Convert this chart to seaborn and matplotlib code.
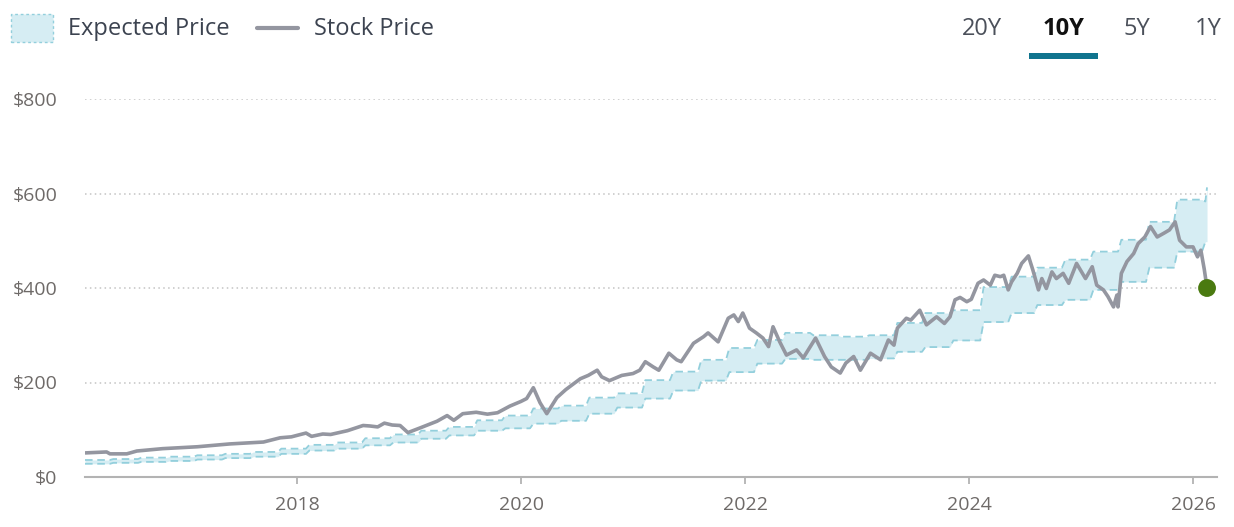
import matplotlib
matplotlib.use("Agg")
import matplotlib.pyplot as plt
import seaborn as sns
from matplotlib.patches import Rectangle
from matplotlib.lines import Line2D

# ---------------- data ----------------
stock_dates = [2016.11, 2016.20, 2016.30, 2016.33, 2016.48, 2016.57, 2016.80, 2017.11,
               2017.40, 2017.70, 2017.85, 2017.95, 2018.08, 2018.13, 2018.23, 2018.30,
               2018.45, 2018.59, 2018.65, 2018.72, 2018.78, 2018.85, 2018.92, 2018.99,
               2019.10, 2019.25, 2019.34, 2019.40, 2019.48, 2019.60, 2019.70, 2019.79,
               2019.90, 2020.00, 2020.05, 2020.11, 2020.17, 2020.23, 2020.32, 2020.40,
               2020.53, 2020.60, 2020.68, 2020.72, 2020.79, 2020.90, 2021.00,
               2021.06, 2021.11, 2021.18, 2021.23, 2021.32, 2021.39, 2021.43, 2021.54,
               2021.63, 2021.67, 2021.76, 2021.85, 2021.90, 2021.94, 2021.98, 2022.04,
               2022.10, 2022.16, 2022.21, 2022.25, 2022.31, 2022.37, 2022.46, 2022.52,
               2022.63, 2022.71, 2022.77, 2022.85, 2022.90, 2022.97, 2023.03, 2023.12,
               2023.21, 2023.28, 2023.33, 2023.36, 2023.44, 2023.48, 2023.56, 2023.62,
               2023.71, 2023.78, 2023.83, 2023.875, 2023.92, 2023.98, 2024.02, 2024.08,
               2024.13, 2024.19, 2024.23, 2024.28, 2024.31, 2024.35, 2024.38, 2024.43,
               2024.47, 2024.53, 2024.57, 2024.62, 2024.65, 2024.69, 2024.74, 2024.78,
               2024.84, 2024.89, 2024.96, 2025.04, 2025.10, 2025.14, 2025.20, 2025.24,
               2025.29, 2025.32, 2025.33, 2025.36, 2025.41, 2025.47, 2025.51, 2025.57,
               2025.62, 2025.68, 2025.74, 2025.79, 2025.84, 2025.88, 2025.94, 2026.00,
               2026.04, 2026.07, 2026.10, 2026.125]
stock_prices = [51, 52, 53, 49, 49, 55, 60, 64,
                70, 74, 83, 85, 93, 86, 91, 90,
                98, 109, 108, 106, 114, 110, 109, 94,
                104, 118, 130, 120, 134, 137, 133, 136,
                150, 160, 166, 189, 157, 134, 168, 185,
                208, 215, 226, 212, 204, 215, 219,
                226, 244, 233, 226, 262, 248, 244, 283,
                297, 305, 286, 336, 343, 329, 347, 315,
                305, 294, 276, 318, 286, 258, 269, 252,
                294, 255, 233, 220, 241, 255, 226, 262,
                248, 290, 279, 315, 336, 332, 353, 322,
                339, 325, 339, 375, 380, 371, 376, 410,
                417, 406, 427, 424, 427, 396, 413, 431,
                452, 468, 438, 396, 420, 399, 434, 420,
                431, 410, 452, 420, 445, 406, 396, 382,
                360, 385, 360, 431, 456, 473, 494, 508,
                530, 508, 516, 523, 540, 501, 487, 487,
                466, 480, 440, 400]

band_dates = [2016.107, 2016.33, 2016.58, 2016.83, 2017.08, 2017.33, 2017.58, 2017.83,
              2018.08, 2018.33, 2018.58, 2018.83, 2019.08, 2019.33, 2019.58, 2019.83,
              2020.08, 2020.33, 2020.58, 2020.83, 2021.08, 2021.33, 2021.58, 2021.83,
              2022.08, 2022.33, 2022.58, 2022.83, 2023.08, 2023.33, 2023.58, 2023.83,
              2024.10, 2024.35, 2024.58, 2024.83, 2025.08, 2025.33, 2025.58, 2025.83,
              2026.08, 2026.125]
band_high = [36, 38, 41, 43, 46, 49, 53, 60,
             68, 73, 82, 90, 98, 106, 120, 130,
             145, 151, 168, 177, 205, 223, 248, 273,
             290, 305, 300, 297, 300, 326, 347, 353,
             402, 424, 443, 460, 477, 502, 540, 587,
             583, 613]
band_low = [28, 30, 32, 34, 37, 40, 43, 49,
            56, 60, 67, 73, 81, 88, 98, 103,
            113, 119, 134, 147, 166, 183, 204, 222,
            240, 250, 248, 248, 251, 265, 275, 289,
            328, 347, 364, 375, 396, 413, 443, 477,
            498, 498]

y_ticks = [0, 200, 400, 600, 800]
y_labels = ["$0", "$200", "$400", "$600", "$800"]
x_ticks = [2018, 2020, 2022, 2024, 2026]
x_labels = ["2018", "2020", "2022", "2024", "2026"]
tabs = ["20Y", "10Y", "5Y", "1Y"]


def slanted(dates, vals, off=0.03):
    """Quarterly step outline with short sloped transitions between steps."""
    xs, ys = [], []
    n = len(dates)
    for i in range(n - 1):
        xs.append(dates[i] + (off if i > 0 else 0.0))
        ys.append(vals[i])
        if i < n - 2:
            xs.append(dates[i + 1])
            ys.append(vals[i])
    xs.append(dates[-1])
    ys.append(vals[-1])
    return xs, ys


bx, bh = slanted(band_dates, band_high)
_, bl = slanted(band_dates, band_low)

# ---------------- style ----------------
sns.set_theme(style="white")
plt.rcParams["font.family"] = ["Open Sans", "DejaVu Sans"]

W, H = 1234, 527
fig = plt.figure(figsize=(W / 100, H / 100), dpi=100)
ax = fig.add_axes([85 / W, 1 - 477 / H, (1217 - 85) / W, (477 - 99) / H])
ax.set_xlim(2016.107, 2026.214)
ax.set_ylim(0, 800)

# gridlines
for yv in y_ticks[1:]:
    ax.axhline(yv, color="#c4c4c4", lw=1.1, linestyle=(0, (1, 2.2)), zorder=0)

# expected price band
fill_c = "#d6edf3"
edge_c = "#93cfdc"
ax.fill_between(bx, bl, bh, color=fill_c, lw=0, zorder=1)
sns.lineplot(x=bx, y=bh, color=edge_c, lw=1.3, linestyle=(0, (4.2, 2.6)), ax=ax, zorder=2)
sns.lineplot(x=bx, y=bl, color=edge_c, lw=1.3, linestyle=(0, (4.2, 2.6)), ax=ax, zorder=2)

# stock price
sns.lineplot(x=stock_dates, y=stock_prices, color="#9496a0", lw=2.6, ax=ax, zorder=3)
ax.scatter([stock_dates[-1]], [stock_prices[-1]], s=165, color="#4a7a10", zorder=5,
           clip_on=False, edgecolors="none")

# axes styling
for s in ["top", "right", "left"]:
    ax.spines[s].set_visible(False)
ax.spines["bottom"].set_color("#b3b3b3")
ax.spines["bottom"].set_linewidth(1.5)
ax.set_yticks(y_ticks)
ax.set_yticklabels(y_labels)
ax.set_xticks(x_ticks)
ax.set_xticklabels(x_labels)
ax.tick_params(axis="y", length=0, pad=20, labelsize=14, labelcolor="#6e6a68")
ax.tick_params(axis="x", length=5, width=1.3, color="#b3b3b3", pad=9, labelsize=14,
               labelcolor="#6e6a68", direction="out", bottom=True)
ax.set_xlabel("")
ax.set_ylabel("")
ax.grid(False)

# legend (figure coordinates)
fig.patches.append(Rectangle((11 / W, 1 - 42 / H), 42 / W, 28 / H, transform=fig.transFigure,
                             facecolor=fill_c, edgecolor=edge_c, lw=1, linestyle=(0, (2, 2))))
fig.lines.append(Line2D([257 / W, 298 / W], [1 - 28 / H, 1 - 28 / H], transform=fig.transFigure,
                        color="#9496a0", lw=3))
fig.text(68 / W, 1 - 29 / H, "Expected Price", va="center", ha="left", fontsize=17, color="#3c4350")
fig.text(314 / W, 1 - 29 / H, "Stock Price", va="center", ha="left", fontsize=17, color="#3c4350")

# range tabs
tab_x = [982, 1064, 1137, 1208]
for t, xx in zip(tabs, tab_x):
    sel = t == "10Y"
    fig.text(xx / W, 1 - 29 / H, t, va="center", ha="center", fontsize=17,
             color="#111111" if sel else "#4b505a", fontweight="bold" if sel else "normal")
fig.patches.append(Rectangle((1029 / W, 1 - 59 / H), 69 / W, 6 / H, transform=fig.transFigure,
                             facecolor="#10748e", edgecolor="none"))

fig.savefig("out.png", dpi=100)
